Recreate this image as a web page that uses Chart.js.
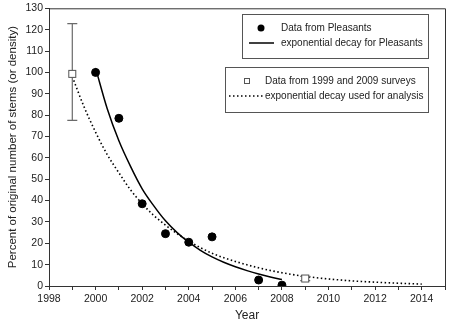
<!DOCTYPE html>
<html>
<head>
<meta charset="utf-8">
<script src="https://cdn.jsdelivr.net/npm/chart.js@4"></script>
<style>
  html, body { margin: 0; padding: 0; background: #ffffff; }
  #wrap { width: 452px; height: 327px; position: relative; }
</style>
</head>
<body>
<div id="wrap"><canvas id="chart"></canvas></div>
<script>
// Pleasants data (filled circles)
const pleasantsYears = [2000, 2001, 2002, 2003, 2004, 2005, 2007, 2008];
const pleasantsValues = [100, 78.5, 38.5, 24.5, 20.5, 23, 2.8, 0.4];

// exponential decay for Pleasants (solid line)
const pleasantsFitYears = [2000, 2000.5, 2001, 2001.5, 2002, 2002.5, 2003, 2003.5, 2004, 2004.5, 2005, 2005.5, 2006, 2006.5, 2007, 2007.5, 2008];
const pleasantsFitValues = [102, 83, 68, 56, 45.5, 37.5, 30.5, 25, 20.5, 16.7, 13.6, 11.1, 9, 7.2, 5.6, 4.2, 3];

// survey data (open squares) with error bars
const surveyYears = [1999, 2009];
const surveyValues = [99.3, 3.5];
const surveyLow = [77.5, 2.5];
const surveyHigh = [122.8, 4.5];

// exponential decay used for analysis (dotted line)
const analysisFitYears = [1999, 1999.5, 2000, 2000.5, 2001, 2001.5, 2002, 2002.5, 2003, 2003.5, 2004, 2005, 2006, 2007, 2008, 2009, 2010, 2011, 2012, 2013, 2014];
const analysisFitValues = [98, 84, 72, 61.5, 53, 45, 38.5, 33, 28.5, 24.5, 21, 15.3, 11.5, 8.5, 6.2, 4.5, 3.3, 2.4, 1.8, 1.3, 0.9];

const yTicks = [0, 130, 10];
const xRange = [1998, 2015];

const legendRows = [
    ['Data from Pleasants', 'exponential decay for Pleasants'],
    ['Data from 1999 and 2009 surveys', 'exponential decay used for analysis']
];

const FONT = '"Liberation Sans", Arial, sans-serif';

const toPts = (xs, ys) => xs.map((x, i) => ({ x: x, y: ys[i] }));

// error bars for the survey points
const errorBars = {
    id: 'errorBars',
    afterDatasetsDraw(chart) {
        const ctx = chart.ctx;
        const xs = chart.scales.x, ys = chart.scales.y;
        ctx.save();
        surveyYears.forEach((yr, i) => {
            const px = xs.getPixelForValue(yr);
            const lo = ys.getPixelForValue(surveyLow[i]);
            const hi = ys.getPixelForValue(surveyHigh[i]);
            ctx.strokeStyle = '#6a6a6a';
            ctx.lineWidth = 1.2;
            ctx.beginPath();
            ctx.moveTo(px, lo); ctx.lineTo(px, hi);
            ctx.moveTo(px - 5, lo); ctx.lineTo(px + 5, lo);
            ctx.moveTo(px - 5, hi); ctx.lineTo(px + 5, hi);
            ctx.stroke();
            // square back on top of the bar
            const py = ys.getPixelForValue(surveyValues[i]);
            ctx.fillStyle = '#ffffff';
            ctx.fillRect(px - 3.5, py - 3.5, 7, 7);
            ctx.strokeStyle = '#555555';
            ctx.lineWidth = 1;
            ctx.strokeRect(px - 3.5, py - 3.5, 7, 7);
        });
        ctx.restore();
    }
};

// frame on top and right + the two legend boxes
const frameAndLegend = {
    id: 'frameAndLegend',
    afterDraw(chart) {
        const ctx = chart.ctx;
        const a = chart.chartArea;
        ctx.save();
        ctx.strokeStyle = '#333333';
        ctx.lineWidth = 1;
        ctx.beginPath();
        ctx.moveTo(a.left, a.top + 0.5);
        ctx.lineTo(a.right + 0.5, a.top + 0.5);
        ctx.lineTo(a.right + 0.5, a.bottom);
        ctx.stroke();

        ctx.strokeStyle = '#555555';
        ctx.strokeRect(242.5, 14.5, 186, 44);
        ctx.strokeRect(225.5, 67.5, 203, 45);

        ctx.font = '10px ' + FONT;
        ctx.fillStyle = '#222222';
        ctx.textBaseline = 'middle';
        ctx.textAlign = 'left';
        ctx.fillText(legendRows[0][0], 281, 28);
        ctx.fillText(legendRows[0][1], 281, 43);
        ctx.fillText(legendRows[1][0], 265, 81);
        ctx.fillText(legendRows[1][1], 265, 96);

        // symbols
        ctx.fillStyle = '#000000';
        ctx.beginPath();
        ctx.arc(261, 28, 3.5, 0, Math.PI * 2);
        ctx.fill();
        ctx.strokeStyle = '#000000';
        ctx.lineWidth = 1.5;
        ctx.beginPath();
        ctx.moveTo(249, 43); ctx.lineTo(274, 43);
        ctx.stroke();

        ctx.strokeStyle = '#555555';
        ctx.lineWidth = 1;
        ctx.strokeRect(244.5, 78.5, 5, 5);
        ctx.setLineDash([1.5, 2.5]);
        ctx.lineWidth = 1.5;
        ctx.strokeStyle = '#000000';
        ctx.beginPath();
        ctx.moveTo(229, 96); ctx.lineTo(263, 96);
        ctx.stroke();
        ctx.restore();
    }
};

new Chart(document.getElementById('chart'), {
    type: 'scatter',
    data: {
        datasets: [
            {
                label: 'exponential decay used for analysis',
                type: 'line',
                data: toPts(analysisFitYears, analysisFitValues),
                borderColor: '#000000',
                borderWidth: 1.6,
                borderDash: [1.5, 2.5],
                pointRadius: 0,
                cubicInterpolationMode: 'monotone',
                fill: false
            },
            {
                label: 'exponential decay for Pleasants',
                type: 'line',
                data: toPts(pleasantsFitYears, pleasantsFitValues),
                borderColor: '#000000',
                borderWidth: 1.5,
                pointRadius: 0,
                cubicInterpolationMode: 'monotone',
                fill: false
            },
            {
                label: 'Data from Pleasants',
                data: toPts(pleasantsYears, pleasantsValues),
                backgroundColor: '#000000',
                borderColor: '#000000',
                pointRadius: 4,
                pointHoverRadius: 4
            },
            {
                label: 'Data from 1999 and 2009 surveys',
                data: toPts(surveyYears, surveyValues),
                pointStyle: 'rect',
                backgroundColor: '#ffffff',
                borderColor: '#555555',
                borderWidth: 1,
                pointRadius: 4
            }
        ]
    },
    options: {
        responsive: true,
        maintainAspectRatio: false,
        animation: false,
        layout: { padding: { top: 8, right: 7, left: 0, bottom: 0 } },
        plugins: {
            legend: { display: false },
            tooltip: { enabled: false }
        },
        scales: {
            x: {
                type: 'linear',
                min: xRange[0],
                max: xRange[1],
                afterFit(scale) { scale.height = 41; },
                border: { color: '#333333', width: 1 },
                grid: { drawOnChartArea: false, color: '#333333', tickLength: 4 },
                ticks: {
                    stepSize: 1,
                    autoSkip: false,
                    maxRotation: 0,
                    padding: 3,
                    color: '#222222',
                    font: { family: FONT, size: 10.5 },
                    callback: v => (v % 2 === 0 && v < 2015) ? String(v) : ''
                },
                title: {
                    display: true,
                    text: 'Year',
                    color: '#222222',
                    font: { family: FONT, size: 12 },
                    padding: { top: 0, bottom: 4 }
                }
            },
            y: {
                min: yTicks[0],
                max: yTicks[1],
                afterFit(scale) { scale.width = 49; },
                border: { color: '#333333', width: 1 },
                grid: { drawOnChartArea: false, color: '#333333', tickLength: 4 },
                ticks: {
                    stepSize: yTicks[2],
                    padding: 2,
                    color: '#222222',
                    font: { family: FONT, size: 10.5 }
                },
                title: {
                    display: true,
                    text: 'Percent of original number of stems (or density)',
                    color: '#222222',
                    font: { family: FONT, size: 11.5 },
                    padding: { top: 6, bottom: 0 }
                }
            }
        }
    },
    plugins: [errorBars, frameAndLegend]
});
</script>
</body>
</html>
